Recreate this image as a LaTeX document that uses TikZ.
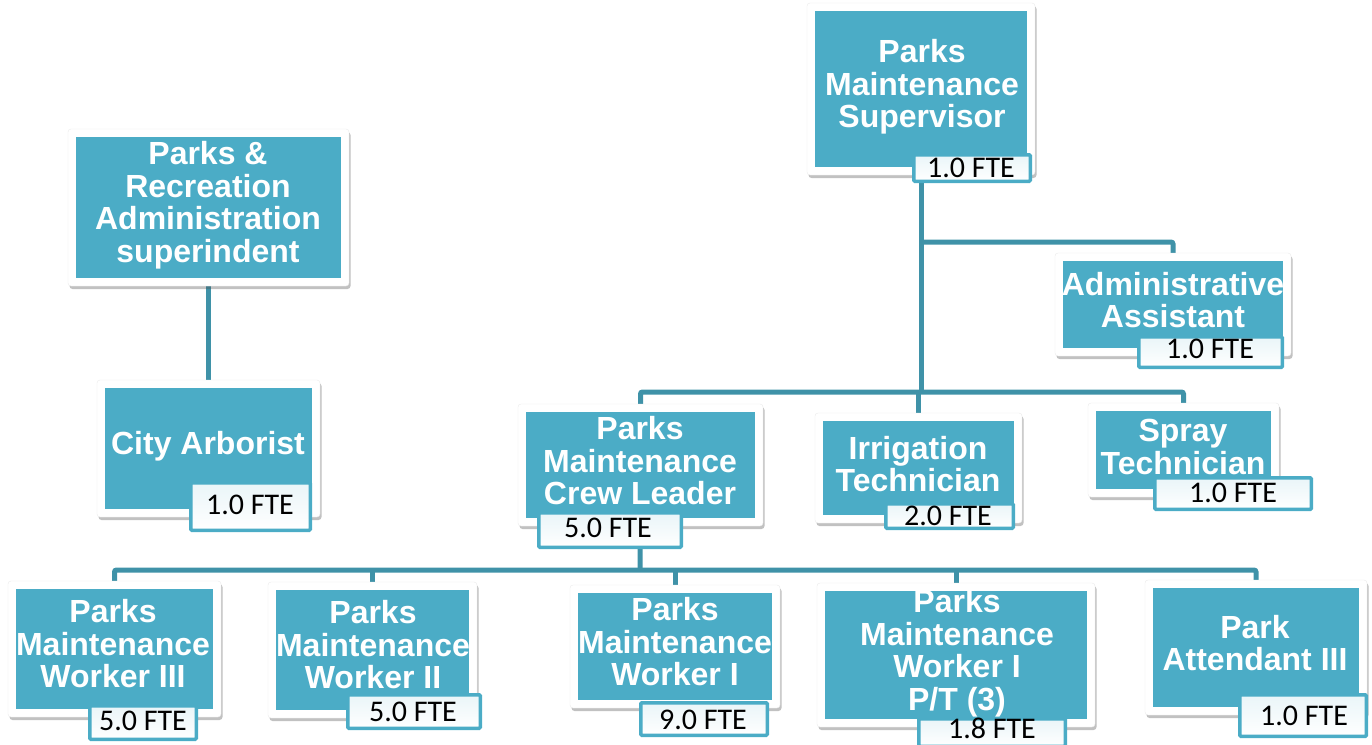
\documentclass[tikz,border=0pt]{standalone}
\usepackage{fontspec}
\setmainfont{Liberation Sans}
\newfontfamily\ftefont{Carlito}
\usetikzlibrary{shadows,backgrounds,calc}
\definecolor{tealfill}{HTML}{4BACC6}
\definecolor{tealline}{HTML}{3F92A8}
\tikzset{
  frame/.style={fill=white, draw=black!8, line width=0.4pt, rounded corners=3pt,
    drop shadow={shadow xshift=1.5pt, shadow yshift=-3pt, opacity=0.35, fill=black!70},
    inner sep=0pt, outer sep=0pt},
  inbox/.style={fill=tealfill, inner sep=0pt, outer sep=0pt},
  title/.style={text=white, font=\fontsize{32}{32.5}\selectfont\bfseries, align=center, inner sep=0pt},
  fteframe/.style={top color=tealfill!12, bottom color=white, draw=tealfill, line width=3.5pt, rounded corners=1pt, inner sep=0pt, outer sep=0pt},
  ftetext/.style={font=\ftefont\fontsize{30}{32}\selectfont, text=black, inner sep=0pt},
  link/.style={draw=tealline, line width=5pt, rounded corners=2pt}
}
% name, x1, y1, x2, y2 (outer frame)
\newcommand\orgbox[5]{%
  \node[frame, minimum width={(#4-#2)*1pt}, minimum height={(#5-#3)*1pt}] (#1) at ({(#2+#4)/2},{(#3+#5)/2}) {};
  \node[inbox, minimum width={(#4-#2-16)*1pt}, minimum height={(#5-#3-16)*1pt}] (#1-in) at (#1.center) {};
}
% name, x1, y1, x2, y2, text x, text y, text
\newcommand\fteB[8]{%
  \node[fteframe, minimum width={(#4-#2-3.5)*1pt}, minimum height={(#5-#3-3.5)*1pt}] (#1) at ({(#2+#4)/2},{(#3+#5)/2}) {};
  \node[ftetext] (#1-t) at (#6,#7) {#8};
}
\begin{document}
\begin{tikzpicture}[x=1pt,y=-1pt]
\useasboundingbox (0,0) rectangle (1372,744);

% boxes
\orgbox{sup}{807}{3}{1035}{175}
\node[title] (sup-t) at (922,87) {Parks\\Maintenance\\Supervisor};
\fteB{sup-f}{912}{153}{1032}{183}{971}{168}{1.0 FTE}

\orgbox{adm}{68}{129}{349}{286}
\node[title] (adm-t) at (208,205) {Parks \&\\Recreation\\Administration\\superindent};

\orgbox{arb}{97}{380}{320}{517}
\node[title] (arb-t) at (208,446) {City Arborist};
\fteB{arb-f}{189}{481}{312}{532}{250}{505}{1.0 FTE}

\orgbox{asst}{1055}{253}{1291}{356}
\node[title] (asst-t) at (1173,300) {Administrative\\Assistant};
\fteB{asst-f}{1137}{335}{1284}{369}{1210}{349}{1.0 FTE}

\orgbox{crew}{518}{404}{763}{526}
\node[title] (crew-t) at (640,461) {Parks\\Maintenance\\Crew Leader};
\fteB{crew-f}{537}{511}{683}{549}{608}{528}{5.0 FTE}

\orgbox{irr}{815}{413}{1022}{523}
\node[title] (irr-t) at (918,464) {Irrigation\\Technician};
\fteB{irr-f}{884}{502}{1015}{530}{948}{516}{2.0 FTE}

\orgbox{spray}{1088}{403}{1279}{497}
\node[title] (spray-t) at (1183,447) {Spray\\Technician};
\fteB{spray-f}{1153}{476}{1313}{511}{1233}{493}{1.0 FTE}

\orgbox{w3}{8}{581}{221}{717}
\node[title] (w3-t) at (113,644) {Parks\\Maintenance\\Worker III};
\fteB{w3-f}{88}{704}{198}{741}{143}{721}{5.0 FTE}

\orgbox{w2}{268}{582}{477}{718}
\node[title] (w2-t) at (373,645) {Parks\\Maintenance\\Worker II};
\fteB{w2-f}{346}{693}{482}{730}{413}{712}{5.0 FTE}

\orgbox{w1}{570}{585}{780}{708}
\node[title] (w1-t) at (675,642) {Parks\\Maintenance\\Worker I};
\fteB{w1-f}{639}{701}{769}{737}{703}{720}{9.0 FTE}

\orgbox{pt}{817}{583}{1095}{727}
\node[title] (pt-t) at (957,653) {Parks\\Maintenance\\Worker I\\P/T (3)};
\fteB{pt-f}{917}{717}{1067}{748}{992}{728}{1.8 FTE}

\orgbox{pa}{1145}{580}{1367}{715}
\node[title] (pa-t) at (1255,643) {Park\\Attendant III};
\fteB{pa-f}{1238}{693}{1368}{738}{1304}{716}{1.0 FTE}

% connectors
\coordinate (j1) at (921,242);
\coordinate (j2) at (921,392);
\coordinate (j3) at (640,570);
\begin{scope}[on background layer]
  \draw[link] (adm.south) -- (arb.north);
  \draw[link] (sup.south) -- (j2);
  \draw[link] (j1) -| (asst.north);
  \draw[link] (crew.north) |- (j2) -| (spray.north);
  \draw[link] (irr.north) -- (irr.north |- j2);
  \draw[link] (crew.south) -- (j3);
  \draw[link] (w3.north) |- (j3) -| (pa.north);
  \draw[link] (w2.north) -- (w2.north |- j3);
  \draw[link] (w1.north) -- (w1.north |- j3);
  \draw[link] (pt.north) -- (pt.north |- j3);
\end{scope}
\end{tikzpicture}
\end{document}
